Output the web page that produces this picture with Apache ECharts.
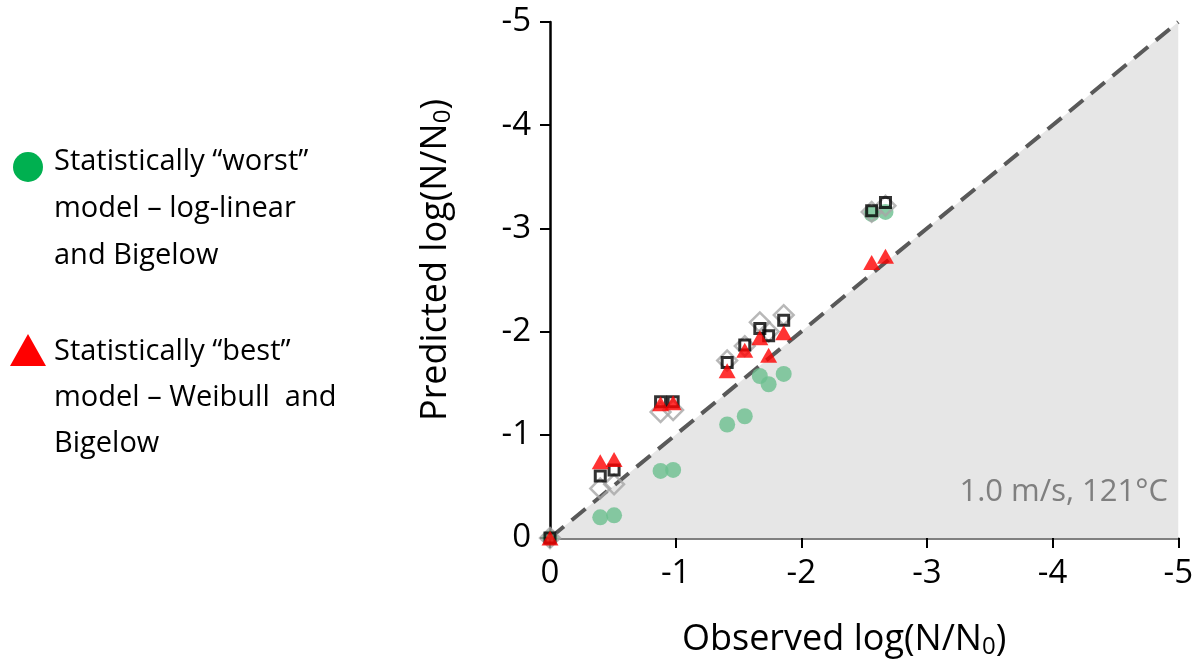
<!DOCTYPE html>
<html lang="en">
<head>
    <meta charset="UTF-8">
    <title>Observed vs predicted</title>
    <style>
        body { margin: 0; background: #fff; }
        #main { width: 1196px; height: 666px; }
    </style>
</head>
<body>
    <div id="main"></div>
    <script src="https://cdn.jsdelivr.net/npm/echarts@6/dist/echarts.min.js"></script>
    <script>
        // observed log reductions
        var observed = [0, -0.40, -0.51, -0.88, -0.98, -1.41, -1.55, -1.67, -1.74, -1.86, -2.56, -2.67];
        // predicted values per model
        var worstPred = [0, -0.20, -0.22, -0.65, -0.66, -1.10, -1.18, -1.57, -1.49, -1.59, -3.14, -3.16];
        var bestPred = [0, -0.74, -0.76, -1.30, -1.31, -1.62, -1.82, -1.94, -1.77, -1.99, -2.67, -2.73];
        var squarePred = [0, -0.60, -0.66, -1.32, -1.32, -1.70, -1.87, -2.03, -1.96, -2.11, -3.17, -3.25];
        var diamondPred = [0, -0.48, -0.52, -1.22, -1.24, -1.72, -1.86, -2.09, -2.00, -2.16, -3.16, -3.22];
        var identity = [[0, 0], [-5, -5]];
        var tickLabels = ['0', '-1', '-2', '-3', '-4', '-5'];

        var worstName = 'Statistically \u201cworst\u201d\nmodel \u2013 log-linear\nand Bigelow';
        var bestName = 'Statistically \u201cbest\u201d\nmodel \u2013 Weibull  and\nBigelow';

        function pairs(ys) {
            return observed.map(function (x, i) { return [x, ys[i]]; });
        }
        function fmt(v) {
            var idx = Math.round(-v);
            return tickLabels[idx] !== undefined ? tickLabels[idx] : String(v);
        }

        var font = '"Open Sans", Lato, sans-serif';
        var chart = echarts.init(document.getElementById('main'));

        function nameStyle(pad) {
            return {
                fontSize: 36,
                fontFamily: font,
                color: '#000',
                padding: pad,
                rich: { sub: { fontSize: 24, fontFamily: font, verticalAlign: 'bottom', padding: [15, 0, 0, 0] } }
            };
        }

        var option = {
            animation: false,
            textStyle: { fontFamily: font },
            grid: { left: 550, top: 22, right: 13, bottom: 128 },
            xAxis: {
                type: 'value',
                min: -5,
                max: 0,
                interval: 1,
                inverse: true,
                name: 'Observed log(N/N{sub|0})',
                nameLocation: 'middle',
                nameGap: 82,
                nameTextStyle: nameStyle([0, 40, 0, 0]),
                axisLine: { lineStyle: { color: '#808080', width: 3 } },
                axisTick: { show: true, length: 10, lineStyle: { color: '#000', width: 2 } },
                axisLabel: { fontSize: 33, fontFamily: font, color: '#000', margin: 19, formatter: fmt },
                splitLine: { show: false }
            },
            yAxis: {
                type: 'value',
                min: -5,
                max: 0,
                interval: 1,
                inverse: true,
                name: 'Predicted log(N/N{sub|0})',
                nameLocation: 'middle',
                nameGap: 95,
                nameTextStyle: nameStyle([0, 0, 0, 40]),
                axisLine: { lineStyle: { color: '#000', width: 2.5 } },
                axisTick: { show: true, length: 10, lineStyle: { color: '#000', width: 2 } },
                axisLabel: { fontSize: 33, fontFamily: font, color: '#000', margin: 19, formatter: fmt },
                splitLine: { show: false }
            },
            graphic: [
                // legend
                { type: 'circle', z: 100, shape: { cx: 28, cy: 167, r: 15 }, style: { fill: '#00b050' } },
                {
                    type: 'text', z: 100, left: 54, top: 138,
                    style: { text: worstName, fontSize: 29, lineHeight: 47, fontFamily: font, fill: '#000' }
                },
                { type: 'polygon', z: 100, shape: { points: [[10, 366], [46, 366], [28, 334]] }, style: { fill: '#ff0000' } },
                {
                    type: 'text', z: 100, left: 54, top: 329,
                    style: { text: bestName, fontSize: 29, lineHeight: 46, fontFamily: font, fill: '#000' }
                },
                // condition label
                {
                    type: 'text', z: 100, right: 28, top: 477,
                    style: { text: '1.0 m/s, 121\u00b0C', fontSize: 31, fontFamily: font, fill: '#7f7f7f' }
                }
            ],
            series: [
                {
                    name: '1:1',
                    type: 'line',
                    data: identity,
                    symbol: 'none',
                    z: 1,
                    lineStyle: { color: '#595959', width: 4, type: [18, 10] },
                    areaStyle: { color: '#e6e6e6', opacity: 1 }
                },
                {
                    name: worstName,
                    type: 'scatter',
                    data: pairs(worstPred),
                    symbol: 'circle',
                    symbolSize: 16,
                    z: 2,
                    itemStyle: { color: '#6cbf8f' }
                },
                {
                    name: 'diamond',
                    type: 'scatter',
                    data: pairs(diamondPred),
                    symbol: 'rect',
                    symbolSize: 14,
                    symbolRotate: 45,
                    z: 3,
                    itemStyle: { color: 'rgba(255,255,255,0)', borderColor: '#a6a6a6', borderWidth: 2.5 }
                },
                {
                    name: 'square',
                    type: 'scatter',
                    data: pairs(squarePred),
                    symbol: 'rect',
                    symbolSize: 10,
                    z: 4,
                    itemStyle: { color: 'rgba(255,255,255,0)', borderColor: '#000', borderWidth: 3 }
                },
                {
                    name: bestName,
                    type: 'scatter',
                    data: pairs(bestPred),
                    symbol: 'triangle',
                    symbolSize: [17, 15],
                    z: 5,
                    itemStyle: { color: '#ff0000' }
                }
            ]
        };

        chart.setOption(option);
    </script>
</body>
</html>
